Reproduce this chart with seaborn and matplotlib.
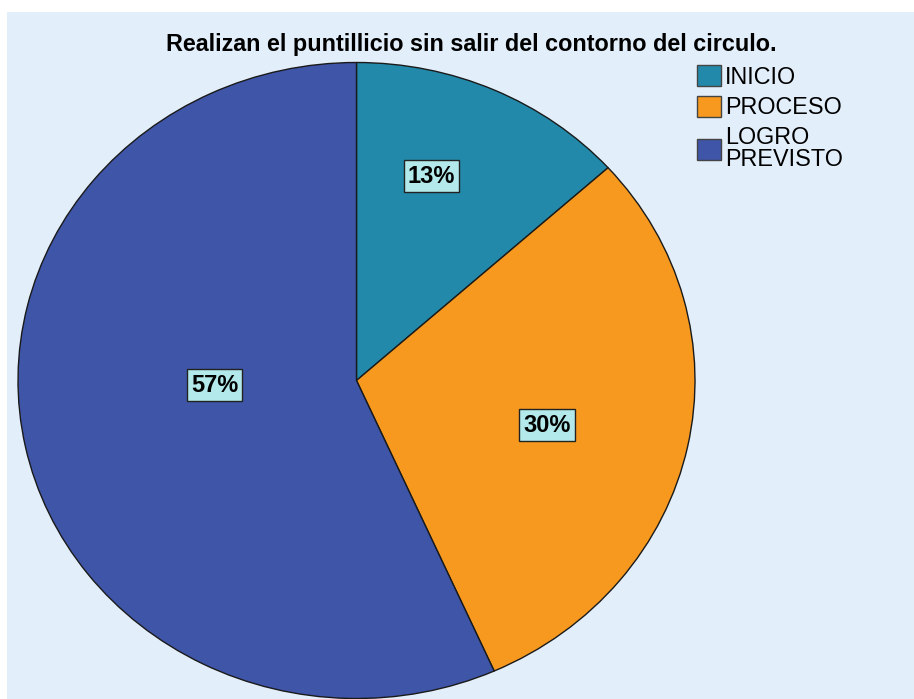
import numpy as np
import matplotlib
matplotlib.use("Agg")
import matplotlib.pyplot as plt
import matplotlib.patches as mpatches
import seaborn as sns

# Data
categories = ["INICIO", "PROCESO", "LOGRO\nPREVISTO"]
counts = [4, 9, 17]
pct_labels = ["13%", "30%", "57%"]
colors = ["#2389aa", "#f7991f", "#3e55a8"]

# label placement (fraction of radius, angle shift in degrees)
label_dist = [0.68, 0.58, 0.42]
label_shift = [5, -2, -10]

BG = "#e2eefa"

sns.set_theme(style="white")
plt.rcParams["font.family"] = ["Liberation Sans", "DejaVu Sans"]

fig = plt.figure(figsize=(9.14, 6.99), dpi=100)
fig.patch.set_facecolor("white")
fig.patches.append(mpatches.Rectangle((7 / 914, 0), 1, (699 - 12) / 699,
                                      transform=fig.transFigure, facecolor=BG,
                                      edgecolor="none", zorder=-10))

W, H = 914, 699
ax = fig.add_axes([18 / W, 0.5 / H, 677 / W, 636 / H])
ax.set_facecolor("none")
ax.set_zorder(5)

wedges, _ = ax.pie(counts, colors=colors, startangle=90, counterclock=False,
                   wedgeprops=dict(edgecolor="#1a1a1a", linewidth=1.0))
ax.set_aspect("auto")
ax.set_xlim(-1, 1)
ax.set_ylim(-1, 1)
ax.axis("off")

for w, lab, d, s in zip(wedges, pct_labels, label_dist, label_shift):
    ang = np.deg2rad((w.theta1 + w.theta2) / 2 + s)
    ax.text(d * np.cos(ang), d * np.sin(ang), lab, ha="center", va="center",
            fontsize=17, fontweight="bold", color="black",
            bbox=dict(boxstyle="square,pad=0.18", facecolor="#b3e9ea",
                      edgecolor="#222222", linewidth=1.0))

fig.text(471 / W, 1 - 45 / H, "Realizan el puntillicio sin salir del contorno del circulo.",
         ha="center", va="center", fontsize=16.8, fontweight="bold", color="black")

handles = [mpatches.Patch(facecolor=c, edgecolor="#444444", linewidth=1.0) for c in colors]
leg = fig.legend(handles, categories, loc="upper left", bbox_to_anchor=(681 / W, 1 - 49 / H),
                 frameon=False, fontsize=16.8, handlelength=1.0, handleheight=1.0,
                 handletextpad=0.2, labelspacing=0.3, borderpad=0.2)
for t in leg.get_texts():
    t.set_color("black")
    t.set_linespacing(0.95)

fig.savefig("out.png", dpi=100, facecolor="white")
